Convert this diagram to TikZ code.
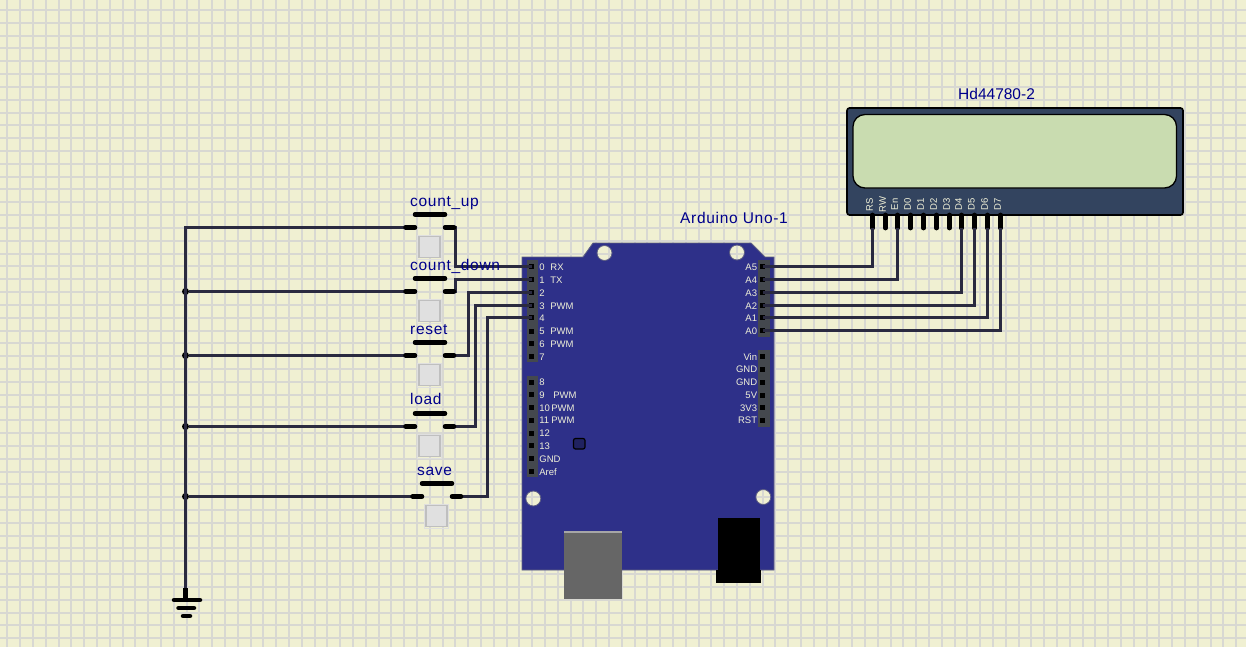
\documentclass[tikz,border=0pt]{standalone}
\usepackage{fontspec}
\setmainfont{Liberation Sans}
\newfontfamily\namefont[LetterSpace=4.5]{Liberation Sans}
\definecolor{bgc}{HTML}{F0F0D2}
\definecolor{gridc}{HTML}{D8D8D2}
\definecolor{boardc}{HTML}{2E3089}
\definecolor{lcdc}{HTML}{33445F}
\definecolor{screenc}{HTML}{C9DCB0}
\definecolor{wirec}{HTML}{2A2A40}
\definecolor{labc}{HTML}{00008B}
\definecolor{silk}{HTML}{F0F0D8}
\definecolor{stripc}{HTML}{44484E}
\tikzset{
  x=1pt,y=-1pt,
  gridline/.style={gridc,draw=none},
  wire/.style={wirec,line width=3pt,line join=miter},
  stub/.style={black,line width=4.5pt,line cap=round},
  pinstub/.style={black,line width=4.8pt},
  junction/.style={circle,fill=black,inner sep=0pt,minimum size=7pt},
  name label/.style={anchor=base west,inner sep=0pt,text=labc,font=\namefont\fontsize{15.5pt}{16pt}\selectfont},
  pad/.style={rectangle,fill=black,inner sep=0pt,minimum size=5pt},
  silkl/.style={anchor=west,inner sep=0pt,text=silk,font=\fontsize{9.5pt}{10pt}\selectfont},
  silkr/.style={anchor=east,inner sep=0pt,text=silk,font=\fontsize{9.5pt}{10pt}\selectfont},
  silkv/.style={rotate=90,inner sep=0pt,text=silk,font=\fontsize{9.5pt}{10pt}\selectfont},
  keycap/.style={rectangle,draw=black!25,line width=1.4pt,fill=black!12,inner sep=0pt,minimum size=21pt,outer sep=0pt},
  strip/.style={fill=stripc,draw=none},
}
\newcommand{\swpts}[3]{% name, x of left stub start, y of wire
  \coordinate (#1l) at (#2+6,#3);
  \coordinate (#1r) at (#2+50,#3);
}
\newcommand{\pushsw}[3]{% name, x of left stub start, y of wire
  \draw[stub] (#2+3.5,#3) -- (#2+13,#3);
  \draw[stub] (#2+43,#3) -- (#2+52,#3);
  \draw[stub] (#2+13,#3-13) -- (#2+43,#3-13);
  \draw[white!75!gray,line width=1pt,fill=none] (#2+15.5,#3+7.5) rectangle (#2+39.5,#3+31.5);
  \node[keycap] (#1k) at (#2+27.5,#3+19.5) {};
}
\begin{document}
\begin{tikzpicture}
\useasboundingbox (0,0) rectangle (1246,647);
\fill[bgc] (0,0) rectangle (1246,647);
\foreach \i in {0,...,97} \fill[gridline] ({6.3+12.8*\i},0) rectangle ({8.3+12.8*\i},647);
\foreach \i in {0,...,50} \fill[gridline] (0,{9+12.82*\i}) rectangle (1246,{11+12.82*\i});

% Arduino board, holes let the grid through
\fill[boardc,even odd rule,draw=gray!60!boardc,line width=0.8pt]
  (522,257) -- (583,257) -- (593,243) -- (751,243) -- (765,257) -- (774,257) -- (774,570) -- (522,570) -- cycle
  (604.5,253) circle[radius=7.5] (737,252.5) circle[radius=7.5]
  (533.3,498.5) circle[radius=7.5] (763.3,497) circle[radius=7.5];
\fill[black!60] (563.5,531) rectangle (622,599);
\fill[black!35] (564,531) rectangle (622,532.5);
\fill[black] (717.7,518) rectangle (759.5,572);
\fill[black] (716,570) rectangle (761,583);
\draw[black,line width=1.2pt,fill=boardc!70!black,rounded corners=2pt] (573.5,438.5) rectangle (585,449);

% header strips
\fill[strip] (526.5,260) rectangle (538,362);
\fill[strip] (526.5,375.5) rectangle (538,477);
\fill[strip] (757.5,260) rectangle (770,337);
\fill[strip] (757.5,350) rectangle (770,427);

% pads
\foreach \n/\y in {0/266.5,1/279.5,2/292.5,3/305.5,4/317.5,5/331,6/343.8,7/356.6,8/382,9/394.8,10/407.6,11/420.4,12/433,13/445.8,GND/458.6,Aref/471.4}
  \node[pad] (p\n) at (531.7,\y) {};
\foreach \n/\y in {A5/266.5,A4/279.5,A3/292.5,A2/305.5,A1/317.5,A0/330.5,Vin/356.6,GNDa/369.4,GNDb/382.2,V5/395,V3/407.8,RST/420.4}
  \node[pad] (p\n) at (762.8,\y) {};

% left labels
\foreach \t/\n in {0/0,1/1,2/2,3/3,4/4,5/5,6/6,7/7,8/8,9/9,10/10,11/11,12/12,13/13,GND/GND,Aref/Aref}
  \node[silkl] at ([xshift=7.5pt,yshift=-0.3pt]p\n.center) {\t};
\foreach \t/\n/\d in {RX/0/18.5,TX/1/18.5,PWM/3/18.5,PWM/5/18.5,PWM/6/18.5,PWM/9/21.5,PWM/10/19.5,PWM/11/19.5}
  \node[silkl] at ([xshift=\d pt,yshift=-0.3pt]p\n.center) {\t};
% right labels
\foreach \t/\n in {A5/A5,A4/A4,A3/A3,A2/A2,A1/A1,A0/A0,Vin/Vin,GND/GNDa,GND/GNDb,5V/V5,3V3/V3,RST/RST}
  \node[silkr] at ([xshift=-5.5pt,yshift=-0.3pt]p\n.center) {\t};

% LCD
\draw[black,line width=1.6pt,fill=lcdc,rounded corners=2.5pt] (847,108) rectangle (1183,215);
\draw[black,line width=1.3pt,fill=screenc,rounded corners=12pt] (853,114.5) rectangle (1176.5,188);
\foreach \t/\n/\px [count=\k from 0] in {RS/a/872.5,RW/b/885.5,En/c/897.5,D0/d/910.5,D1/e/923.5,D2/f/936.5,D3/g/949.5,D4/h/961.5,D5/i/974.5,D6/j/987.5,D7/k/1000.5}{
  \coordinate (l\n) at (\px,228);
  \draw[pinstub,line cap=round] (\px,215) -- (\px,228);
  \node[silkv] at (\px-3,204.5) {\t};
}

% switch terminals
\swpts{up}{402}{227.5}
\swpts{down}{402}{291.5}
\swpts{rst}{402}{355.5}
\swpts{load}{402}{426.5}
\swpts{save}{409}{496.5}

% ground
\coordinate (gtop) at (185.5,227.5);
\coordinate (gnd) at (185.5,600);
\node[junction] (j1) at (185.5,291.5) {};
\node[junction] (j2) at (185.5,355.5) {};
\node[junction] (j3) at (185.5,426.5) {};
\node[junction] (j4) at (185.5,496.5) {};
\draw[wire] (upl) -- (gtop) -- (gnd);
\draw[wire] (j1) -- (downl);
\draw[wire] (j2) -- (rstl);
\draw[wire] (j3) -- (loadl);
\draw[wire] (j4) -- (savel);
\draw[black,line width=4.5pt] (185.5,588) -- (gnd);
\draw[stub] (174,600) -- (200,600);
\draw[stub] (178.5,608) -- (194,608);
\draw[stub] (183,616) -- (190,616);

% wires to board
\draw[wire] (upr) -- (455.5,227.5) |- (p0.center);
\draw[wire] (downr) -- (455.5,291.5) |- (p1.center);
\draw[wire] (rstr) -- (468.5,355.5) |- (p2.center);
\draw[wire] (loadr) -- (475.5,426.5) |- (p3.center);
\draw[wire] (saver) -- (487.5,496.5) |- (p4.center);

% wires to lcd
\draw[wire] (la) |- (pA5.center);
\draw[wire] (lc) |- (pA4.center);
\draw[wire] (lh) |- (pA3.center);
\draw[wire] (li) |- (pA2.center);
\draw[wire] (lj) |- (pA1.center);
\draw[wire] (lk) |- (pA0.center);

% switches
\pushsw{up}{402}{227.5}
\pushsw{down}{402}{291.5}
\pushsw{rst}{402}{355.5}
\pushsw{load}{402}{426.5}
\pushsw{save}{409}{496.5}

% names
\node[name label] at (410,206) {count\_up};
\node[name label] at (410,270) {count\_down};
\node[name label] at (410,334) {reset};
\node[name label] at (410,404) {load};
\node[name label] at (417,475) {save};
\node[name label] at (680,223) {Arduino Uno-1};
\node[anchor=base west,inner sep=0pt,text=labc,font=\fontsize{15.5pt}{16pt}\selectfont] at (958,100) {Hd44780-2};
\end{tikzpicture}
\end{document}
